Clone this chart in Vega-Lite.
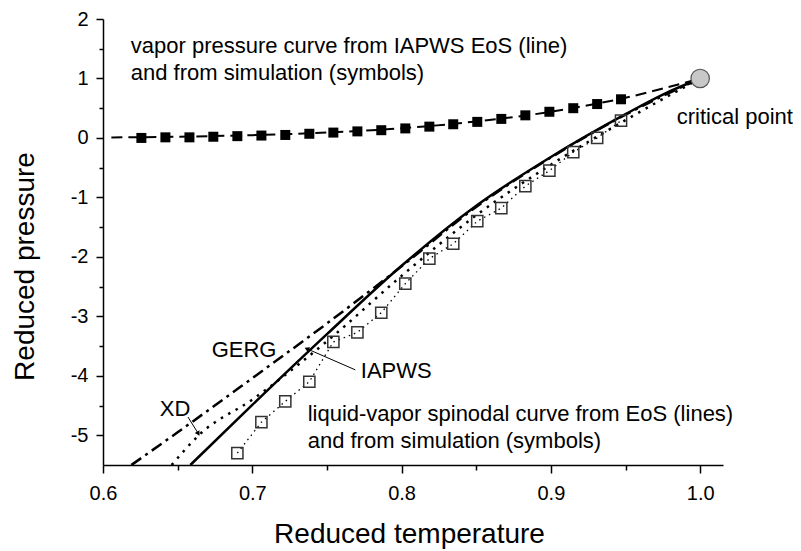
{
  "$schema": "https://vega.github.io/schema/vega-lite/v6.json",
  "width": 620,
  "height": 446,
  "autosize": {"type": "none"},
  "padding": {"left": 103, "top": 19, "right": 78, "bottom": 86},
  "background": "white",
  "config": {
    "view": {"stroke": null},
    "font": "Liberation Sans",
    "axis": {
      "domainColor": "black", "domainWidth": 1.5, "tickColor": "black", "tickWidth": 1.5,
      "labelColor": "black", "titleColor": "black", "labelFont": "Liberation Sans", "titleFont": "Liberation Sans",
      "titleFontWeight": "normal", "grid": false
    }
  },
  "datasets": {
    "vapor_line": [
      {"t": 0.6056, "p": 0.0085}, {"t": 0.65, "p": 0.02}, {"t": 0.70, "p": 0.047}, {"t": 0.75, "p": 0.091},
      {"t": 0.80, "p": 0.163}, {"t": 0.85, "p": 0.277}, {"t": 0.90, "p": 0.44}, {"t": 0.925, "p": 0.55},
      {"t": 0.95, "p": 0.675}, {"t": 0.975, "p": 0.83}, {"t": 1.0, "p": 1.0}
    ],
    "vapor_sim": [
      {"t": 0.6257, "p": 0.0}, {"t": 0.6418, "p": 0.01}, {"t": 0.6579, "p": 0.01}, {"t": 0.6739, "p": 0.02},
      {"t": 0.690, "p": 0.03}, {"t": 0.7061, "p": 0.04}, {"t": 0.7221, "p": 0.05}, {"t": 0.7382, "p": 0.07},
      {"t": 0.7543, "p": 0.09}, {"t": 0.7704, "p": 0.11}, {"t": 0.7864, "p": 0.13}, {"t": 0.8025, "p": 0.16},
      {"t": 0.8186, "p": 0.19}, {"t": 0.8346, "p": 0.23}, {"t": 0.8507, "p": 0.27}, {"t": 0.8668, "p": 0.32},
      {"t": 0.8829, "p": 0.38}, {"t": 0.899, "p": 0.44}, {"t": 0.915, "p": 0.50}, {"t": 0.931, "p": 0.57},
      {"t": 0.947, "p": 0.65}
    ],
    "spinodal": [
      {"curve": "IAPWS", "t": 0.6585, "p": -5.5}, {"curve": "IAPWS", "t": 0.70, "p": -4.49}, {"curve": "IAPWS", "t": 0.75, "p": -3.30},
      {"curve": "IAPWS", "t": 0.80, "p": -2.15}, {"curve": "IAPWS", "t": 0.85, "p": -1.14}, {"curve": "IAPWS", "t": 0.90, "p": -0.32},
      {"curve": "IAPWS", "t": 0.95, "p": 0.40}, {"curve": "IAPWS", "t": 0.975, "p": 0.73}, {"curve": "IAPWS", "t": 1.0, "p": 1.0},
      {"curve": "GERG", "t": 0.619, "p": -5.5}, {"curve": "GERG", "t": 0.65, "p": -4.95}, {"curve": "GERG", "t": 0.70, "p": -4.04},
      {"curve": "GERG", "t": 0.75, "p": -3.12}, {"curve": "GERG", "t": 0.80, "p": -2.16}, {"curve": "GERG", "t": 0.85, "p": -1.16},
      {"curve": "GERG", "t": 0.90, "p": -0.33}, {"curve": "GERG", "t": 0.95, "p": 0.39}, {"curve": "GERG", "t": 1.0, "p": 1.0},
      {"curve": "XD", "t": 0.646, "p": -5.5}, {"curve": "XD", "t": 0.665, "p": -4.98}, {"curve": "XD", "t": 0.70, "p": -4.40},
      {"curve": "XD", "t": 0.75, "p": -3.42}, {"curve": "XD", "t": 0.80, "p": -2.32}, {"curve": "XD", "t": 0.85, "p": -1.30},
      {"curve": "XD", "t": 0.90, "p": -0.45}, {"curve": "XD", "t": 0.95, "p": 0.30}, {"curve": "XD", "t": 1.0, "p": 1.0}
    ],
    "spinodal_sim": [
      {"t": 0.690, "p": -5.30}, {"t": 0.7061, "p": -4.78}, {"t": 0.7221, "p": -4.43}, {"t": 0.7382, "p": -4.10},
      {"t": 0.7543, "p": -3.43}, {"t": 0.7704, "p": -3.27}, {"t": 0.7864, "p": -2.94}, {"t": 0.8025, "p": -2.45},
      {"t": 0.8186, "p": -2.03}, {"t": 0.8346, "p": -1.78}, {"t": 0.8507, "p": -1.40}, {"t": 0.8668, "p": -1.18},
      {"t": 0.8829, "p": -0.81}, {"t": 0.899, "p": -0.55}, {"t": 0.915, "p": -0.24}, {"t": 0.931, "p": 0.0},
      {"t": 0.947, "p": 0.29}
    ],
    "labels": [
      {"t": 0.6186, "p": 1.428, "text": "vapor pressure curve from IAPWS EoS (line)"},
      {"t": 0.6186, "p": 0.974, "text": "and from simulation (symbols)"},
      {"t": 0.7371, "p": -4.755, "text": "liquid-vapor spinodal curve from EoS (lines)"},
      {"t": 0.7371, "p": -5.22, "text": "and from simulation (symbols)"},
      {"t": 0.9843, "p": 0.233, "text": "critical point"},
      {"t": 0.6728, "p": -3.68, "text": "GERG"},
      {"t": 0.638, "p": -4.676, "text": "XD"},
      {"t": 0.7727, "p": -4.04, "text": "IAPWS"}
    ]
  },
  "encoding": {
    "x": {"field": "t", "type": "quantitative", "scale": {"domain": [0.6, 1.0153], "nice": false, "zero": false},
      "axis": {"values": [0.6, 0.65, 0.7, 0.75, 0.8, 0.85, 0.9, 0.95, 1.0],
        "labelExpr": "abs(datum.value*10 - round(datum.value*10)) < 0.001 ? format(datum.value, '.1f') : ''",
        "tickSize": {"condition": {"test": "abs(datum.value*10 - round(datum.value*10)) < 0.001", "value": 8}, "value": 5},
        "labelFontSize": 20, "labelPadding": 10, "labelFlush": false, "labelOverlap": false,
        "title": "Reduced temperature", "titleFontSize": 28, "titleBaseline": "alphabetic", "titleX": 306, "titleY": 77, "titleAnchor": null, "titleAlign": "center"}},
    "y": {"field": "p", "type": "quantitative", "scale": {"domain": [-5.5, 2], "nice": false, "zero": false},
      "axis": {"values": [-5, -4.5, -4, -3.5, -3, -2.5, -2, -1.5, -1, -0.5, 0, 0.5, 1, 1.5, 2],
        "labelExpr": "abs(datum.value - round(datum.value)) < 0.001 ? '' + datum.value : ''",
        "tickSize": {"condition": {"test": "abs(datum.value - round(datum.value)) < 0.001", "value": 7}, "value": 4},
        "labelFontSize": 20, "labelPadding": 8, "labelFlush": false, "labelOverlap": false,
        "title": "Reduced pressure", "titleFontSize": 28, "titleAngle": 270, "titleBaseline": "alphabetic", "titleX": -70, "titleY": 247, "titleAlign": "center"}}
  },
  "layer": [
    {"data": {"name": "vapor_line"}, "mark": {"type": "line", "color": "black", "strokeWidth": 2, "strokeDash": [11, 6], "interpolate": "monotone"}},
    {"data": {"name": "vapor_sim"}, "mark": {"type": "point", "shape": "square", "filled": true, "color": "black", "size": 100, "opacity": 1}},
    {"data": {"name": "spinodal_sim"}, "mark": {"type": "line", "color": "black", "strokeWidth": 1.3, "strokeDash": [1.5, 4]}},
    {"data": {"name": "spinodal"}, "transform": [{"filter": "datum.curve == 'IAPWS'"}], "mark": {"type": "line", "color": "black", "strokeWidth": 2.5, "interpolate": "monotone"}},
    {"data": {"name": "spinodal"}, "transform": [{"filter": "datum.curve == 'GERG'"}], "mark": {"type": "line", "color": "black", "strokeWidth": 2.5, "strokeDash": [12, 5, 3, 5], "interpolate": "monotone"}},
    {"data": {"name": "spinodal"}, "transform": [{"filter": "datum.curve == 'XD'"}], "mark": {"type": "line", "color": "black", "strokeWidth": 2.5, "strokeDash": [2.5, 6], "interpolate": "monotone"}},
    {"data": {"name": "spinodal_sim"}, "mark": {"type": "point", "shape": "square", "filled": false, "color": "#333", "strokeWidth": 1.5, "size": 125, "opacity": 1}},
    {"data": {"values": [{"t": 1.0, "p": 1.0}]}, "mark": {"type": "point", "shape": "circle", "filled": true, "fill": "#c8c8c8", "stroke": "#555", "strokeWidth": 1.2, "size": 340, "opacity": 1}},
    {"data": {"values": [{"t": 0.6569, "p": -4.693, "t2": 0.6636, "p2": -4.962}, {"t": 0.7690, "p": -3.90, "t2": 0.7370, "p2": -3.55}]},
      "mark": {"type": "rule", "color": "black", "strokeWidth": 1},
      "encoding": {"x2": {"field": "t2"}, "y2": {"field": "p2"}}},
    {"data": {"values": [{"t": 0.6636, "p": -4.962}]}, "mark": {"type": "point", "shape": "triangle", "filled": true, "color": "black", "size": 30, "angle": 148, "opacity": 1}},
    {"data": {"values": [{"t": 0.7370, "p": -3.55}]}, "mark": {"type": "point", "shape": "triangle", "filled": true, "color": "black", "size": 30, "angle": 294, "opacity": 1}},
    {"data": {"name": "labels"}, "mark": {"type": "text", "align": "left", "baseline": "alphabetic", "fontSize": 22, "font": "Liberation Sans", "color": "black"},
      "encoding": {"text": {"field": "text"}}}
  ]
}
